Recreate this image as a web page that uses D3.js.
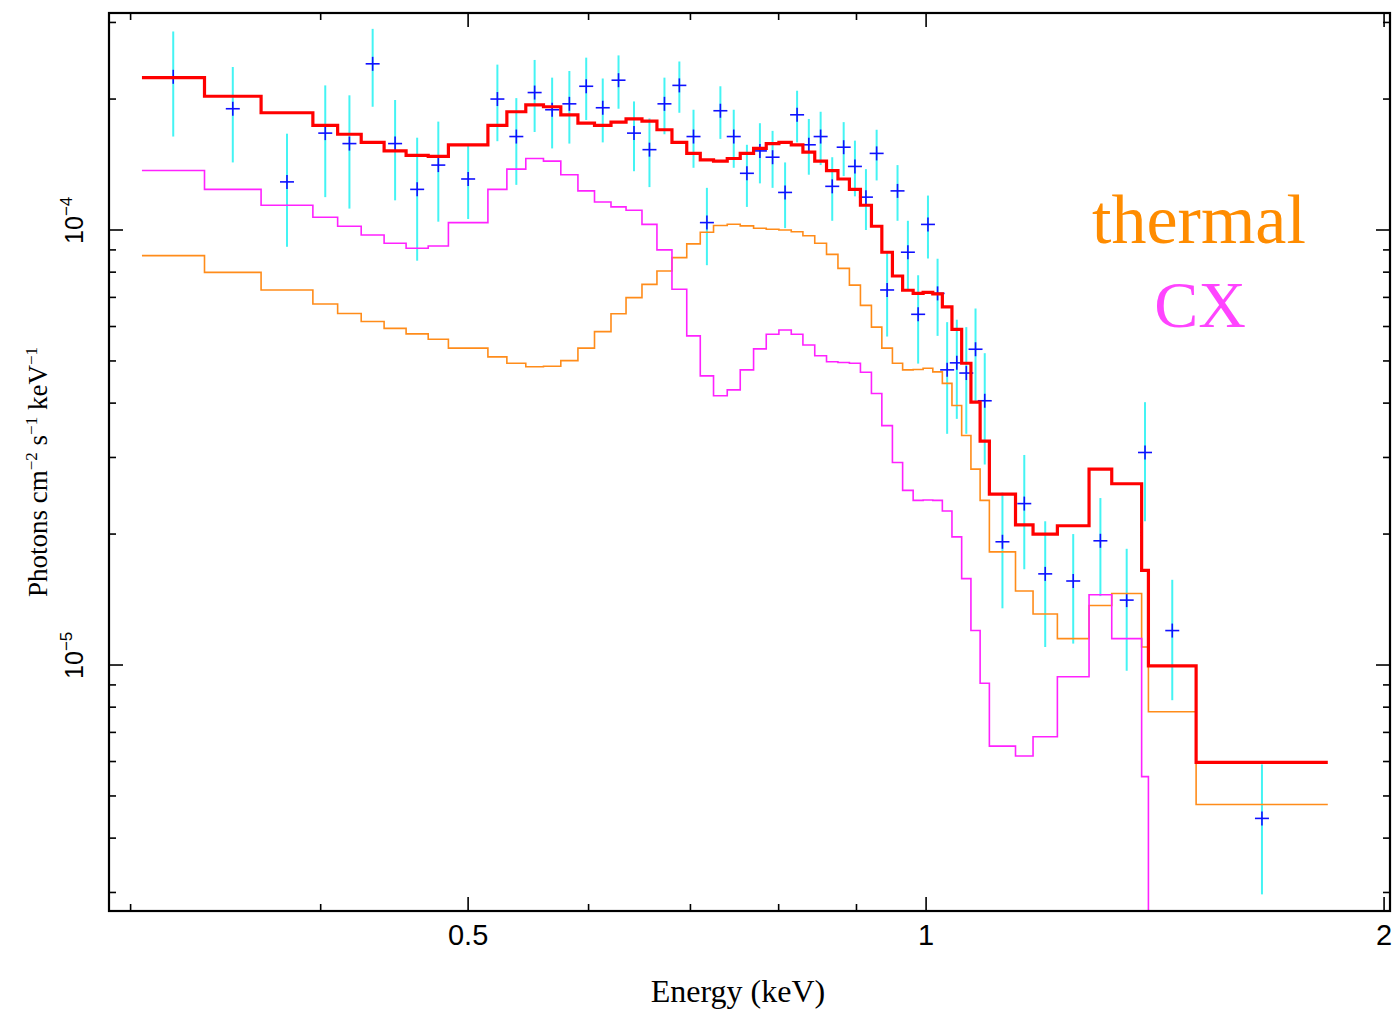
<!DOCTYPE html>
<html>
<head>
<meta charset="utf-8">
<script src="https://cdn.jsdelivr.net/npm/d3@7"></script>
<style>
  html, body { margin: 0; padding: 0; background: #fff; }
  svg { display: block; }
</style>
</head>
<body>
<svg id="chart" width="1393" height="1010"></svg>
<script>
// Energy bin edges (keV) shared by the data and the folded model components
const binEdges = [
  0.3052, 0.3355, 0.3655, 0.3953, 0.4104, 0.4253, 0.4403, 0.4552, 0.4707, 0.4853,
  0.5152, 0.5302, 0.5456, 0.5604, 0.5753, 0.5904, 0.6054, 0.6207, 0.6350, 0.6505,
  0.6654, 0.6807, 0.6961, 0.7105, 0.7249, 0.7401, 0.7548, 0.7702, 0.7851, 0.8003,
  0.8154, 0.8299, 0.8449, 0.8601, 0.8751, 0.8904, 0.9054, 0.9206, 0.9352, 0.9503,
  0.9651, 0.9806, 0.9955, 1.0102, 1.0249, 1.0399, 1.0553, 1.0702, 1.0852, 1.1005,
  1.1449, 1.1757, 1.2198, 1.2797, 1.3244, 1.3857, 1.4000, 1.5048, 1.8367
];

// Total model (photons cm^-2 s^-1 keV^-1), one value per bin
const totalModel = [
  2.24e-4, 2.03e-4, 1.86e-4, 1.74e-4, 1.66e-4, 1.59e-4, 1.52e-4, 1.485e-4, 1.477e-4, 1.57e-4,
  1.74e-4, 1.87e-4, 1.94e-4, 1.92e-4, 1.84e-4, 1.76e-4, 1.74e-4, 1.77e-4, 1.80e-4, 1.78e-4,
  1.70e-4, 1.59e-4, 1.50e-4, 1.45e-4, 1.44e-4, 1.46e-4, 1.50e-4, 1.54e-4, 1.58e-4, 1.59e-4,
  1.57e-4, 1.51e-4, 1.44e-4, 1.37e-4, 1.31e-4, 1.24e-4, 1.14e-4, 1.02e-4, 8.89e-5, 7.84e-5,
  7.27e-5, 7.15e-5, 7.19e-5, 7.13e-5, 6.66e-5, 5.91e-5, 4.94e-5, 4.02e-5, 3.27e-5, 2.47e-5,
  2.10e-5, 2.00e-5, 2.09e-5, 2.82e-5, 2.61e-5, 1.65e-5, 9.95e-6, 5.97e-6
];

// Thermal plasma component
const thermalModel = [
  8.73e-5, 7.99e-5, 7.28e-5, 6.76e-5, 6.43e-5, 6.16e-5, 5.94e-5, 5.77e-5, 5.61e-5, 5.35e-5,
  5.11e-5, 4.94e-5, 4.85e-5, 4.86e-5, 5.01e-5, 5.35e-5, 5.84e-5, 6.42e-5, 6.99e-5, 7.50e-5,
  8.05e-5, 8.64e-5, 9.29e-5, 9.88e-5, 1.024e-4, 1.031e-4, 1.022e-4, 1.009e-4, 1.004e-4, 1.000e-4,
  9.91e-5, 9.70e-5, 9.32e-5, 8.79e-5, 8.16e-5, 7.47e-5, 6.71e-5, 5.98e-5, 5.35e-5, 4.94e-5,
  4.77e-5, 4.78e-5, 4.81e-5, 4.72e-5, 4.44e-5, 3.95e-5, 3.37e-5, 2.82e-5, 2.39e-5, 1.82e-5,
  1.48e-5, 1.31e-5, 1.15e-5, 1.37e-5, 1.46e-5, 1.10e-5, 7.81e-6, 4.78e-6
];

// Charge-exchange component (drops off the bottom of the plot above ~1.4 keV)
const cxModel = [
  1.37e-4, 1.24e-4, 1.14e-4, 1.07e-4, 1.02e-4, 9.74e-5, 9.32e-5, 9.08e-5, 9.19e-5, 1.04e-4,
  1.24e-4, 1.38e-4, 1.46e-4, 1.44e-4, 1.34e-4, 1.23e-4, 1.16e-4, 1.13e-4, 1.11e-4, 1.03e-4,
  9.00e-5, 7.31e-5, 5.71e-5, 4.62e-5, 4.16e-5, 4.29e-5, 4.77e-5, 5.33e-5, 5.76e-5, 5.89e-5,
  5.76e-5, 5.44e-5, 5.14e-5, 4.98e-5, 4.96e-5, 4.94e-5, 4.71e-5, 4.21e-5, 3.55e-5, 2.92e-5,
  2.52e-5, 2.39e-5, 2.395e-5, 2.39e-5, 2.26e-5, 1.97e-5, 1.58e-5, 1.20e-5, 9.08e-6, 6.51e-6,
  6.18e-6, 6.84e-6, 9.40e-6, 1.45e-5, 1.15e-5, 5.54e-6, 1e-7, 1e-7
];

// Unfolded spectrum: flux and 1-sigma error per bin
const dataFlux = [
  2.25e-4, 1.90e-4, 1.29e-4, 1.67e-4, 1.58e-4, 2.41e-4, 1.58e-4, 1.24e-4, 1.41e-4, 1.31e-4,
  2.00e-4, 1.64e-4, 2.07e-4, 1.89e-4, 1.95e-4, 2.14e-4, 1.91e-4, 2.21e-4, 1.67e-4, 1.53e-4,
  1.95e-4, 2.15e-4, 1.64e-4, 1.04e-4, 1.88e-4, 1.64e-4, 1.35e-4, 1.52e-4, 1.47e-4, 1.22e-4,
  1.84e-4, 1.57e-4, 1.64e-4, 1.26e-4, 1.55e-4, 1.40e-4, 1.19e-4, 1.50e-4, 7.28e-5, 1.23e-4,
  8.89e-5, 6.40e-5, 1.03e-4, 7.15e-5, 4.77e-5, 4.95e-5, 4.69e-5, 5.32e-5, 4.05e-5, 1.92e-5,
  2.35e-5, 1.62e-5, 1.56e-5, 1.93e-5, 1.41e-5, 3.08e-5, 1.20e-5, 4.44e-6
];
const dataErr = [
  6.1e-5, 4.7e-5, 3.75e-5, 4.8e-5, 4.6e-5, 4.9e-5, 4.1e-5, 3.9e-5, 3.65e-5, 2.5e-5,
  4.0e-5, 3.7e-5, 3.9e-5, 3.5e-5, 3.7e-5, 3.5e-5, 3.2e-5, 3.1e-5, 3.05e-5, 2.75e-5,
  2.9e-5, 2.9e-5, 2.5e-5, 2.1e-5, 2.6e-5, 2.5e-5, 2.2e-5, 2.4e-5, 2.2e-5, 2.1e-5,
  2.5e-5, 2.3e-5, 2.3e-5, 2.1e-5, 2.2e-5, 2.05e-5, 1.9e-5, 2.0e-5, 1.59e-5, 1.8e-5,
  1.61e-5, 1.47e-5, 1.7e-5, 1.44e-5, 1.37e-5, 1.27e-5, 1.29e-5, 1.28e-5, 1.16e-5, 5.7e-6,
  6.9e-6, 5.2e-6, 4.4e-6, 4.9e-6, 4.4e-6, 9.4e-6, 3.7e-6, 1.47e-6
];

// Axis ticks
const xMajorTicks = [0.5, 1, 2];
const xMajorLabels = ["0.5", "1", "2"];
const xMinorTicks = [0.3, 0.4, 0.6, 0.7, 0.8, 0.9];
const yMajorTicks = [1e-5, 1e-4];
const yMajorExponents = ["\u22125", "\u22124"];
const yMinorTicks = [3e-6, 4e-6, 5e-6, 6e-6, 7e-6, 8e-6, 9e-6,
  2e-5, 3e-5, 4e-5, 5e-5, 6e-5, 7e-5, 8e-5, 9e-5, 2e-4, 3e-4];

const frame = { left: 109, right: 1390, top: 13, bottom: 911 };

const x = d3.scaleLog().domain([0.29035, 2.018]).range([frame.left, frame.right]);
const y = d3.scaleLog().domain([2.7197e-6, 3.1539e-4]).range([frame.bottom, frame.top]);

const svg = d3.select("#chart");
svg.append("rect").attr("width", 1393).attr("height", 1010).attr("fill", "#fff");

svg.append("defs").append("clipPath").attr("id", "plot-clip")
  .append("rect")
  .attr("x", frame.left).attr("y", frame.top)
  .attr("width", frame.right - frame.left).attr("height", frame.bottom - frame.top);

const plot = svg.append("g").attr("clip-path", "url(#plot-clip)");

// Data: cyan error bars with blue crosses at bin centres
const points = dataFlux.map((v, i) => ({
  e: Math.sqrt(binEdges[i] * binEdges[i + 1]),
  v: v,
  err: dataErr[i]
}));

plot.append("g").selectAll("line").data(points).join("line")
  .attr("x1", d => x(d.e)).attr("x2", d => x(d.e))
  .attr("y1", d => y(d.v + d.err)).attr("y2", d => y(Math.max(d.v - d.err, 1e-9)))
  .attr("stroke", "#44f4f4").attr("stroke-width", 2);

const arm = 7;
const crosses = plot.append("g").attr("stroke", "#1010ff").attr("stroke-width", 1.6);
crosses.selectAll("line.h").data(points).join("line").attr("class", "h")
  .attr("x1", d => x(d.e) - arm).attr("x2", d => x(d.e) + arm)
  .attr("y1", d => y(d.v)).attr("y2", d => y(d.v));
crosses.selectAll("line.v").data(points).join("line").attr("class", "v")
  .attr("x1", d => x(d.e)).attr("x2", d => x(d.e))
  .attr("y1", d => y(d.v) - arm).attr("y2", d => y(d.v) + arm);

// Histogram-style model curves
function stepPoints(values) {
  const pts = values.map((v, i) => [binEdges[i], v]);
  pts.push([binEdges[values.length], values[values.length - 1]]);
  return pts;
}
const stepLine = d3.line()
  .x(d => x(d[0]))
  .y(d => y(d[1]))
  .curve(d3.curveStepAfter);

plot.append("path").attr("d", stepLine(stepPoints(thermalModel)))
  .attr("fill", "none").attr("stroke", "#ff8c1a").attr("stroke-width", 1.6);
plot.append("path").attr("d", stepLine(stepPoints(cxModel)))
  .attr("fill", "none").attr("stroke", "#ff22ff").attr("stroke-width", 1.6);
plot.append("path").attr("d", stepLine(stepPoints(totalModel)))
  .attr("fill", "none").attr("stroke", "#ff0000").attr("stroke-width", 3.2);

// Frame and ticks on all four sides (ticks point inward)
const axes = svg.append("g").attr("stroke", "#000");
function xTicks(vals, len) {
  vals.forEach(v => {
    axes.append("line").attr("x1", x(v)).attr("x2", x(v))
      .attr("y1", frame.bottom).attr("y2", frame.bottom - len).attr("stroke-width", 1.6);
    axes.append("line").attr("x1", x(v)).attr("x2", x(v))
      .attr("y1", frame.top).attr("y2", frame.top + len).attr("stroke-width", 1.6);
  });
}
function yTicks(vals, len) {
  vals.forEach(v => {
    axes.append("line").attr("x1", frame.left).attr("x2", frame.left + len)
      .attr("y1", y(v)).attr("y2", y(v)).attr("stroke-width", 1.6);
    axes.append("line").attr("x1", frame.right).attr("x2", frame.right - len)
      .attr("y1", y(v)).attr("y2", y(v)).attr("stroke-width", 1.6);
  });
}
xTicks(xMajorTicks.filter(v => x(v) < frame.right), 14);
xTicks(xMinorTicks, 7);
yTicks(yMajorTicks, 14);
yTicks(yMinorTicks, 7);

axes.append("rect")
  .attr("x", frame.left).attr("y", frame.top)
  .attr("width", frame.right - frame.left).attr("height", frame.bottom - frame.top)
  .attr("fill", "none").attr("stroke-width", 2.2);

// Tick labels
const sans = "'Liberation Sans', Arial, Helvetica, sans-serif";
const serif = "'Liberation Serif', 'Times New Roman', Times, serif";

svg.append("g").selectAll("text").data(xMajorTicks).join("text")
  .attr("x", d => x(d)).attr("y", 945)
  .attr("text-anchor", "middle")
  .attr("font-family", sans).attr("font-size", 29)
  .text((d, i) => xMajorLabels[i]);

yMajorTicks.forEach((v, i) => {
  const fs = 25;
  const g = svg.append("g").attr("transform", `translate(83,${y(v)}) rotate(-90)`);
  const t = g.append("text").attr("x", -fs * 0.556).attr("y", 0)
    .attr("font-family", sans).attr("font-size", fs);
  t.append("tspan").text("10");
  t.append("tspan").attr("dy", -11).attr("font-size", 17).text(yMajorExponents[i]);
});

// Axis titles
svg.append("text")
  .attr("x", 738).attr("y", 1002)
  .attr("text-anchor", "middle")
  .attr("font-family", serif).attr("font-size", 32)
  .text("Energy (keV)");

const yTitle = svg.append("text")
  .attr("transform", "translate(47,472) rotate(-90)")
  .attr("text-anchor", "middle")
  .attr("font-family", serif).attr("font-size", 27);
yTitle.append("tspan").text("Photons cm");
yTitle.append("tspan").attr("dy", -10).attr("font-size", 17).text("\u22122");
yTitle.append("tspan").attr("dy", 10).text(" s");
yTitle.append("tspan").attr("dy", -10).attr("font-size", 17).text("\u22121");
yTitle.append("tspan").attr("dy", 10).text(" keV");
yTitle.append("tspan").attr("dy", -10).attr("font-size", 17).text("\u22121");

// Component labels
svg.append("text")
  .attr("x", 1199).attr("y", 243)
  .attr("text-anchor", "middle")
  .attr("font-family", serif).attr("font-size", 70)
  .attr("fill", "#ff8c00")
  .text("thermal");
svg.append("text")
  .attr("x", 1200).attr("y", 327)
  .attr("text-anchor", "middle")
  .attr("font-family", serif).attr("font-size", 66)
  .attr("fill", "#ff44ff")
  .text("CX");
</script>
</body>
</html>
